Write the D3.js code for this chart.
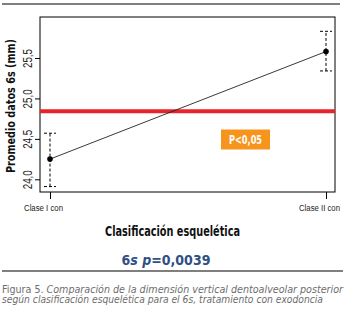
<!DOCTYPE html>
<html>
<head>
<meta charset="utf-8">
<script src="https://cdn.jsdelivr.net/npm/d3@7"></script>
<style>
  body { margin: 0; background: #fff; }
  svg { display: block; font-family: "DejaVu Sans Condensed", "Liberation Sans Narrow", "Arial Narrow", sans-serif; }
</style>
</head>
<body>
<div id="chart"></div>
<script>
const categories = ['Clase I con', 'Clase II con'];
const means = [24.25, 25.58];
const lower = [23.91, 25.34];
const upper = [24.57, 25.83];
const refValue = 24.84;
const yTicks = [24.0, 24.5, 25.0, 25.5];

const width = 346, height = 318;
const box = {left: 40, top: 17, right: 335, bottom: 192};

const svg = d3.select('#chart').append('svg')
    .attr('width', width).attr('height', height);

// top rule
svg.append('line').attr('x1', 2).attr('x2', 340).attr('y1', 4).attr('y2', 4)
    .attr('stroke', '#000').attr('stroke-width', 1.2);

const x = d3.scalePoint().domain(categories).range([50, 326]);
const y = d3.scaleLinear().domain([24.0, 25.5]).range([179.3, 58]);

svg.append('rect')
    .attr('x', box.left).attr('y', box.top)
    .attr('width', box.right - box.left).attr('height', box.bottom - box.top)
    .attr('fill', 'none').attr('stroke', '#000').attr('stroke-width', 1);

// y axis
const yAxis = d3.axisLeft(y).tickValues(yTicks).tickSize(5)
    .tickFormat(d => d3.format('.1f')(d).replace('.', ','));
const gy = svg.append('g').attr('transform', `translate(${box.left},0)`).call(yAxis);
gy.select('.domain').remove();
gy.selectAll('text')
    .attr('transform', 'rotate(-90)')
    .attr('x', 0).attr('y', -8).attr('dy', 0)
    .attr('text-anchor', 'middle')
    .attr('textLength', 19).attr('lengthAdjust', 'spacingAndGlyphs')
    .style('font-size', '12px').attr('fill', '#222');

// x axis
const xAxis = d3.axisBottom(x).tickSize(7);
const gx = svg.append('g').attr('transform', `translate(0,${box.bottom})`).call(xAxis);
gx.select('.domain').remove();
gx.selectAll('text').attr('y', 13).attr('dx', -7)
    .attr('textLength', d => d === categories[0] ? 39 : 41)
    .attr('lengthAdjust', 'spacingAndGlyphs')
    .style('font-size', '8.5px').attr('fill', '#222');

// reference line
svg.append('line')
    .attr('x1', box.left).attr('x2', box.right)
    .attr('y1', y(refValue)).attr('y2', y(refValue))
    .attr('stroke', '#e8242a').attr('stroke-width', 4);

// mean line
const line = d3.line().x((d, i) => x(categories[i])).y(d => y(d));
svg.append('path').datum(means)
    .attr('d', line).attr('fill', 'none').attr('stroke', '#222').attr('stroke-width', 0.9);

// error bars
const eb = svg.append('g');
categories.forEach((c, i) => {
    eb.append('line').attr('x1', x(c)).attr('x2', x(c))
        .attr('y1', y(lower[i])).attr('y2', y(upper[i]))
        .attr('stroke', '#000').attr('stroke-width', 1).attr('stroke-dasharray', '3,2');
    [lower[i], upper[i]].forEach(v => {
        eb.append('line').attr('x1', x(c) - 6).attr('x2', x(c) + 6)
            .attr('y1', y(v)).attr('y2', y(v))
            .attr('stroke', '#000').attr('stroke-width', 1).attr('stroke-dasharray', '3,2');
    });
    eb.append('circle').attr('cx', x(c)).attr('cy', y(means[i])).attr('r', 2.8).attr('fill', '#000');
});

// p badge
svg.append('rect').attr('x', 221).attr('y', 129.5).attr('width', 49).attr('height', 20)
    .attr('fill', '#f7941d');
svg.append('text').attr('x', 245.5).attr('y', 143.5).attr('text-anchor', 'middle')
    .attr('textLength', 33).attr('lengthAdjust', 'spacingAndGlyphs')
    .attr('fill', '#fff').style('font-size', '12px').style('font-weight', 'bold')
    .text('P<0,05');

// axis titles
svg.append('text').attr('transform', 'rotate(-90)')
    .attr('x', -106).attr('y', 14.5).attr('text-anchor', 'middle')
    .attr('textLength', 134).attr('lengthAdjust', 'spacingAndGlyphs')
    .style('font-size', '13px').style('font-weight', 'bold').attr('fill', '#111')
    .text('Promedio datos 6s (mm)');

svg.append('text').attr('x', 172.5).attr('y', 236).attr('text-anchor', 'middle')
    .attr('textLength', 135).attr('lengthAdjust', 'spacingAndGlyphs')
    .style('font-size', '14px').style('font-weight', 'bold').attr('fill', '#111')
    .text('Clasificación esquelética');

const sub = svg.append('text').attr('x', 166).attr('y', 264.5).attr('text-anchor', 'middle')
    .style('font-size', '14px').style('font-weight', 'bold').attr('fill', '#2f4f86');
sub.append('tspan').text('6');
sub.append('tspan').style('font-style', 'italic').text('s p');
sub.append('tspan').text('=0,0039');

// bottom rule
svg.append('line').attr('x1', 2).attr('x2', 343).attr('y1', 271).attr('y2', 271)
    .attr('stroke', '#000').attr('stroke-width', 1.2);

// caption
const cap1 = svg.append('text').attr('x', 2).attr('y', 293)
    .attr('textLength', 341).attr('lengthAdjust', 'spacingAndGlyphs')
    .style('font-size', '10px').attr('fill', '#6d6d6d');
cap1.append('tspan').text('Figura 5. ');
cap1.append('tspan').style('font-style', 'italic')
    .text('Comparación de la dimensión vertical dentoalveolar posterior');
svg.append('text').attr('x', 2).attr('y', 303)
    .attr('textLength', 321).attr('lengthAdjust', 'spacingAndGlyphs')
    .style('font-size', '10px').style('font-style', 'italic').attr('fill', '#6d6d6d')
    .text('según clasificación esquelética para el 6s, tratamiento con exodoncia');
</script>
</body>
</html>
